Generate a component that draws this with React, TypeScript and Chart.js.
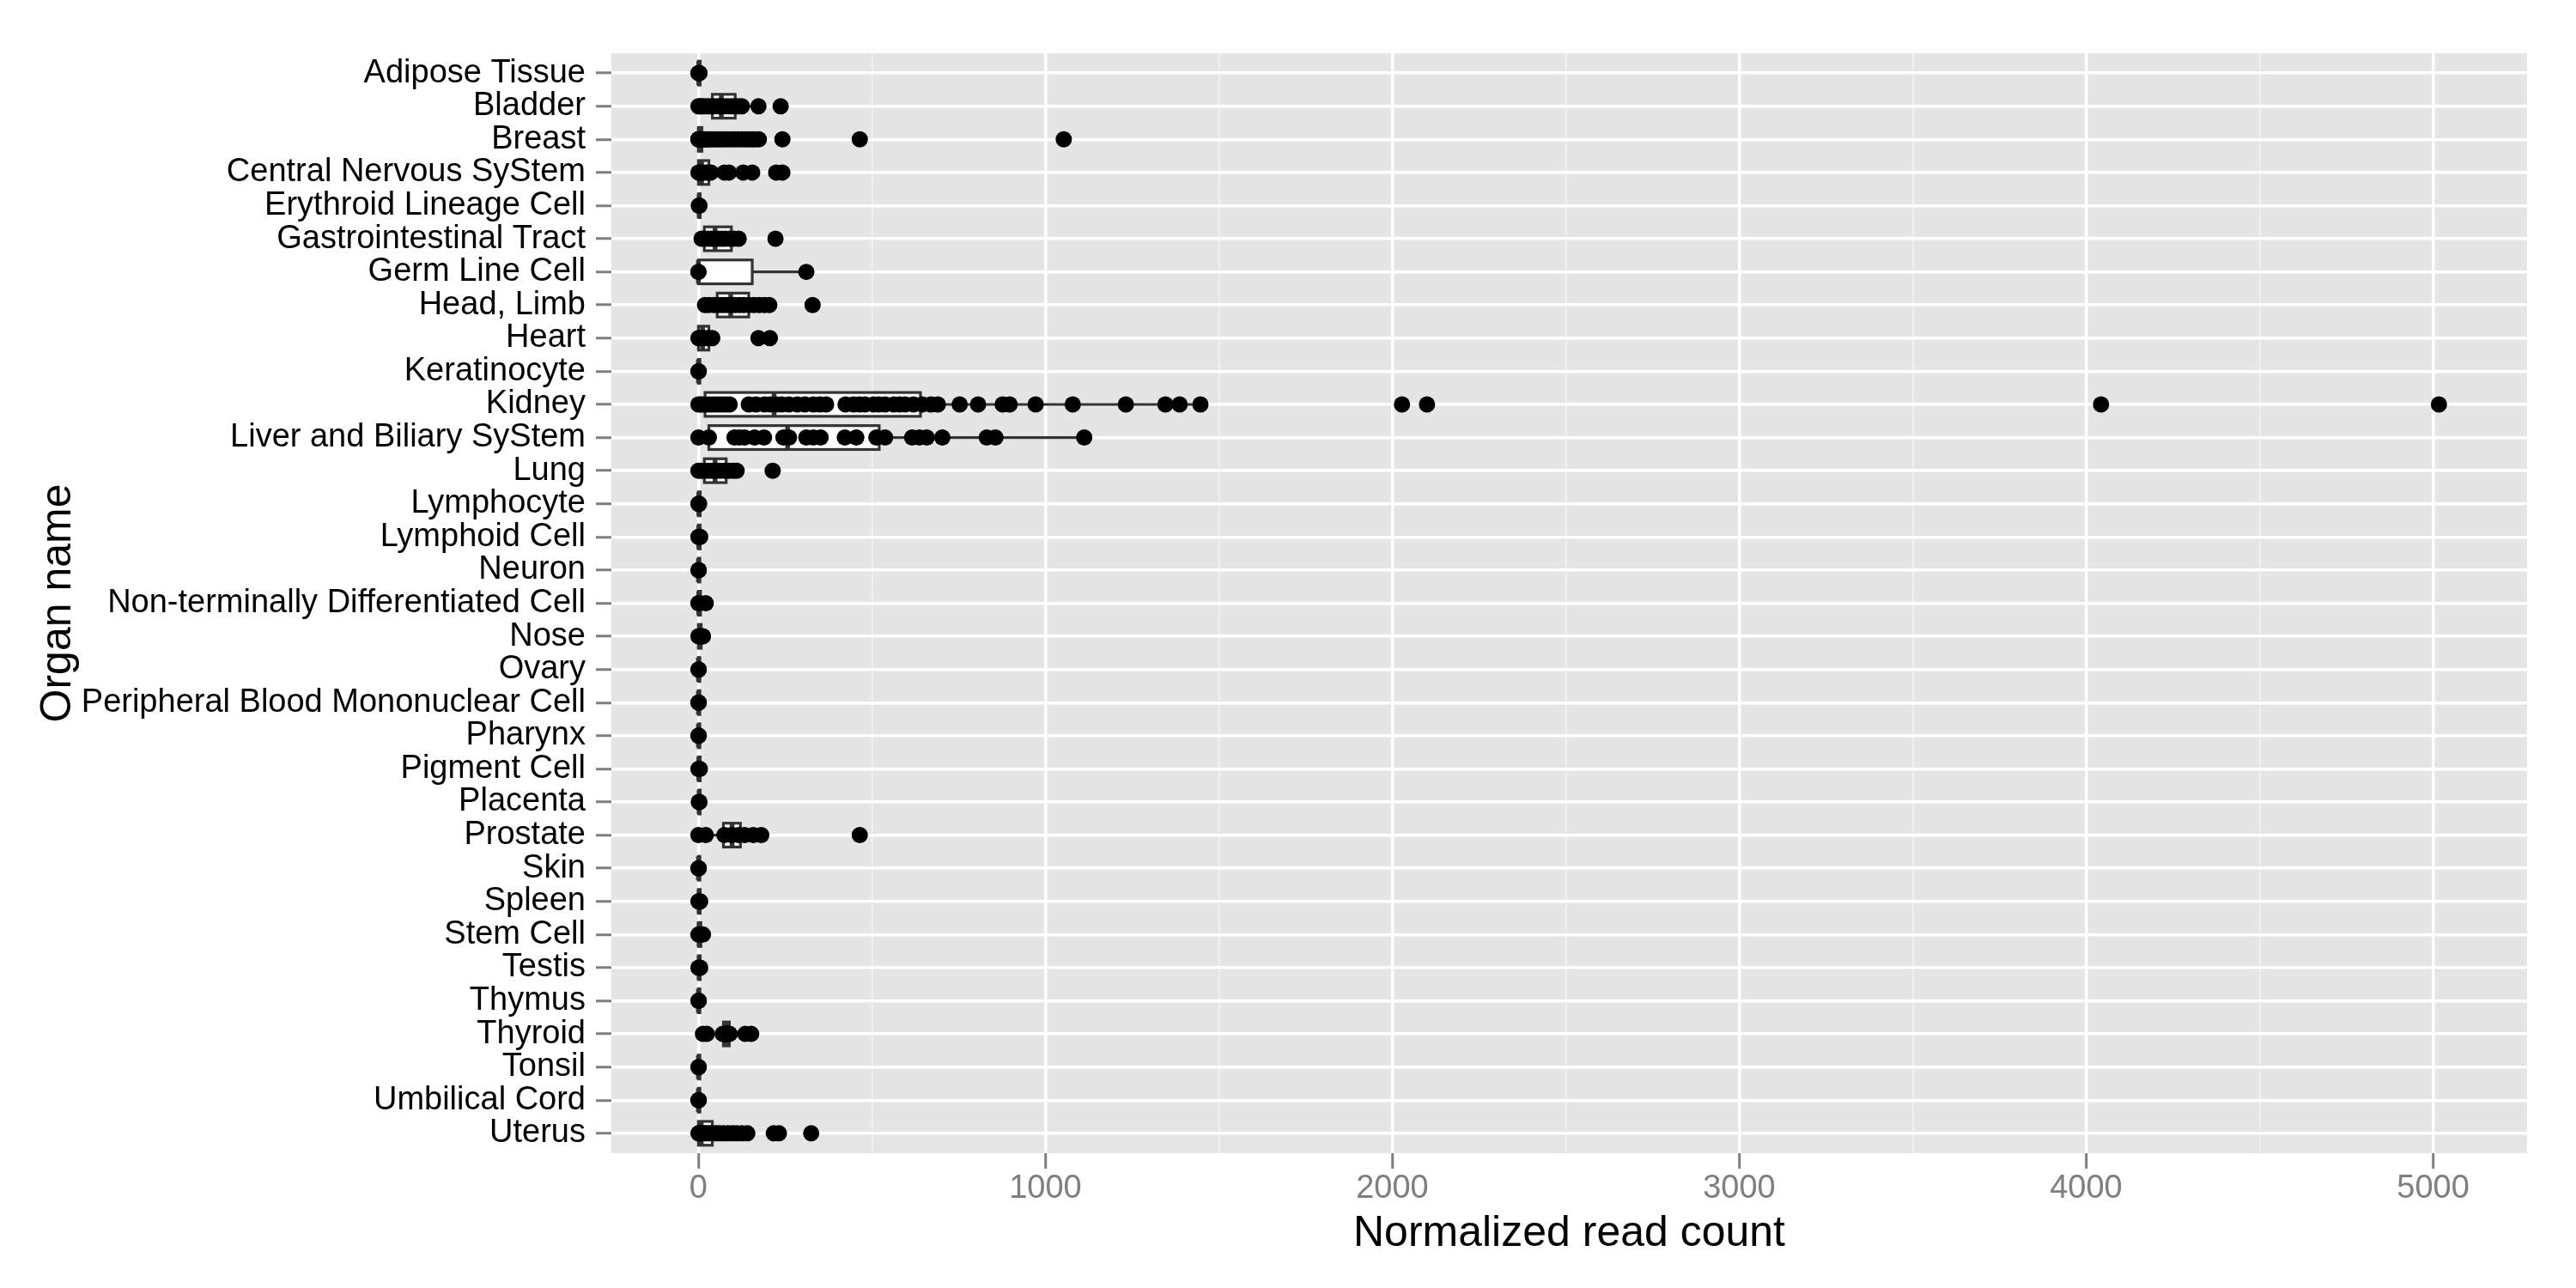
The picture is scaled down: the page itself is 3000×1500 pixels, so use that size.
import React, { useEffect, useRef } from 'react';
import { Chart, registerables } from 'chart.js';

Chart.register(...registerables);

const FONT = '"Liberation Sans", Arial, Helvetica, sans-serif';

const organNames: string[] = [
  'Adipose Tissue',
  'Bladder',
  'Breast',
  'Central Nervous SyStem',
  'Erythroid Lineage Cell',
  'Gastrointestinal Tract',
  'Germ Line Cell',
  'Head, Limb',
  'Heart',
  'Keratinocyte',
  'Kidney',
  'Liver and Biliary SyStem',
  'Lung',
  'Lymphocyte',
  'Lymphoid Cell',
  'Neuron',
  'Non-terminally Differentiated Cell',
  'Nose',
  'Ovary',
  'Peripheral Blood Mononuclear Cell',
  'Pharynx',
  'Pigment Cell',
  'Placenta',
  'Prostate',
  'Skin',
  'Spleen',
  'Stem Cell',
  'Testis',
  'Thymus',
  'Thyroid',
  'Tonsil',
  'Umbilical Cord',
  'Uterus',
];

// normalized read counts per organ (one list per organ, same order as organNames)
const readCounts: number[][] = [
  [0, 1, 2, 3],
  [0, 4, 10, 18, 28, 38, 48, 58, 66, 75, 85, 95, 105, 115, 125, 173, 237],
  [0, 0, 1, 2, 3, 5, 7, 10, 14, 18, 22, 28, 35, 42, 50, 58, 66, 75, 85, 95, 105, 115, 125, 135, 145, 155, 163, 174, 242, 465, 1053],
  [0, 3, 8, 14, 22, 30, 36, 75, 88, 129, 155, 224, 242],
  [1, 3],
  [9, 18, 28, 38, 48, 58, 68, 78, 90, 102, 116, 222],
  [0, 0, 311],
  [19, 30, 45, 58, 70, 82, 93, 105, 118, 130, 145, 160, 175, 190, 204, 329],
  [0, 5, 12, 20, 30, 40, 173, 206],
  [0, 1],
  [0, 6, 12, 20, 30, 40, 50, 60, 70, 80, 90, 145, 166, 190, 207, 225, 240, 261, 285, 307, 331, 350, 368, 424, 447, 465, 480, 505, 520, 538, 563, 580, 596, 620, 645, 670, 690, 753, 806, 877, 897, 972, 1079, 1232, 1346, 1387, 1447, 2028, 2100, 4043, 5017],
  [0, 30, 104, 118, 133, 162, 189, 245, 261, 311, 331, 352, 422, 455, 513, 538, 616, 637, 658, 703, 831, 856, 1112],
  [0, 8, 17, 28, 40, 50, 62, 75, 88, 100, 110, 214],
  [0, 1, 2],
  [0, 2, 5],
  [0, 1],
  [0, 2, 21],
  [0, 4, 10, 13],
  [0, 1],
  [0, 1],
  [0, 1],
  [0, 2, 4],
  [1, 3],
  [0, 21, 75, 96, 116, 133, 158, 181, 465],
  [0, 1],
  [0, 3, 5],
  [0, 5, 13],
  [0, 3, 5],
  [0, 1],
  [13, 24, 70, 74, 78, 80, 83, 86, 90, 135, 152],
  [0, 1],
  [0, 1],
  [0, 2, 5, 8, 12, 18, 25, 32, 40, 50, 60, 72, 85, 98, 110, 125, 141, 217, 232, 325],
];

// box-plot statistics
const boxQ1: number[] = [0, 40, 0, 0, 1, 17, 0, 54, 0, 0, 19, 30, 17, 0, 0, 0, 0, 0, 0, 0, 0, 0, 1, 72, 0, 0, 0, 0, 0, 72, 0, 0, 0];
const boxMedian: number[] = [1, 66, 3, 9, 2, 48, 0, 93, 12, 0, 218, 257, 48, 1, 1, 0, 1, 3, 0, 0, 0, 1, 2, 97, 0, 2, 2, 2, 0, 80, 0, 0, 8];
const boxQ3: number[] = [5, 106, 10, 30, 5, 95, 155, 145, 30, 4, 640, 521, 80, 5, 5, 4, 6, 8, 4, 4, 4, 5, 5, 121, 4, 5, 7, 5, 4, 89, 4, 4, 40];
const whiskerLow: number[] = [0, 0, 0, 0, 1, 9, 0, 19, 0, 0, 0, 0, 0, 0, 0, 0, 0, 0, 0, 0, 0, 0, 1, 0, 0, 0, 0, 0, 0, 70, 0, 0, 0];
const whiskerHigh: number[] = [5, 173, 22, 75, 5, 116, 311, 204, 40, 4, 1447, 1112, 110, 5, 5, 4, 6, 13, 4, 4, 4, 5, 5, 181, 4, 5, 13, 5, 4, 90, 4, 4, 98];

const xTickValues: number[] = [0, 500, 1000, 1500, 2000, 2500, 3000, 3500, 4000, 4500, 5000];
const xMin = -251;
const xMax = 5271;

const BOX_HALF = 0.36;

const panelAndBoxes = {
  id: 'panelAndBoxes',
  beforeDraw(chart: any) {
    const { ctx, chartArea: a } = chart;
    ctx.save();
    ctx.fillStyle = '#E5E5E5';
    ctx.fillRect(a.left, a.top, a.right - a.left, a.bottom - a.top);
    ctx.restore();
  },
  beforeDatasetsDraw(chart: any) {
    const { ctx } = chart;
    const xs = chart.scales.x;
    const ys = chart.scales.y;
    ctx.save();
    ctx.strokeStyle = '#333333';
    organNames.forEach((_, i) => {
      const yc = ys.getPixelForValue(i);
      const h = Math.abs(ys.getPixelForValue(i + BOX_HALF) - yc);
      const xl = xs.getPixelForValue(whiskerLow[i]);
      const x1 = xs.getPixelForValue(boxQ1[i]);
      const xm = xs.getPixelForValue(boxMedian[i]);
      const x3 = xs.getPixelForValue(boxQ3[i]);
      const xh = xs.getPixelForValue(whiskerHigh[i]);
      ctx.lineWidth = 3.2;
      ctx.beginPath();
      ctx.moveTo(xl, yc);
      ctx.lineTo(x1, yc);
      ctx.moveTo(x3, yc);
      ctx.lineTo(xh, yc);
      ctx.stroke();
      ctx.fillStyle = '#FFFFFF';
      ctx.fillRect(x1, yc - h, x3 - x1, 2 * h);
      ctx.strokeRect(x1, yc - h, x3 - x1, 2 * h);
      ctx.lineWidth = 5.5;
      ctx.beginPath();
      ctx.moveTo(xm, yc - h);
      ctx.lineTo(xm, yc + h);
      ctx.stroke();
    });
    ctx.restore();
  },
};

export default function App() {
  const canvasRef = useRef<HTMLCanvasElement | null>(null);

  useEffect(() => {
    if (!canvasRef.current) return;
    const points = readCounts.flatMap((vals, i) => vals.map((v) => ({ x: v, y: i })));
    const isMajor = (c: any) => c.tick && c.tick.value % 1000 === 0;
    const chart = new Chart(canvasRef.current, {
      type: 'scatter',
      data: {
        datasets: [
          {
            data: points,
            pointRadius: 9.5,
            pointHoverRadius: 9.5,
            backgroundColor: '#000000',
            borderWidth: 0,
          },
        ],
      },
      plugins: [panelAndBoxes],
      options: {
        responsive: false,
        maintainAspectRatio: false,
        animation: false,
        events: [],
        layout: { padding: { top: 62, right: 57, bottom: 0, left: 0 } },
        plugins: {
          legend: { display: false },
          tooltip: { enabled: false },
        },
        scales: {
          x: {
            type: 'linear',
            min: xMin,
            max: xMax,
            bounds: 'data',
            afterBuildTicks: (s: any) => {
              s.ticks = xTickValues.map((v) => ({ value: v }));
            },
            afterFit: (s: any) => {
              s.height = 157;
            },
            ticks: {
              callback: (v: any) => (Number(v) % 1000 === 0 ? String(v) : ''),
              color: '#7F7F7F',
              font: { family: FONT, size: 38 },
              padding: 1,
              maxRotation: 0,
              autoSkip: false,
            },
            grid: {
              color: (c: any) => (isMajor(c) ? '#FFFFFF' : '#F2F2F2'),
              lineWidth: (c: any) => (isMajor(c) ? 3.5 : 1.7),
              tickColor: (c: any) => (isMajor(c) ? '#7F7F7F' : 'rgba(0,0,0,0)'),
              tickLength: 18,
              tickWidth: 3,
            },
            border: { display: false },
            title: {
              display: true,
              text: 'Normalized read count',
              color: '#000000',
              font: { family: FONT, size: 50 },
              padding: { top: 0, bottom: 33 },
            },
          },
          y: {
            type: 'linear',
            reverse: true,
            min: -0.6,
            max: organNames.length - 0.4,
            bounds: 'data',
            afterBuildTicks: (s: any) => {
              s.ticks = organNames.map((_, i) => ({ value: i }));
            },
            afterFit: (s: any) => {
              s.width = 712;
            },
            ticks: {
              callback: (v: any) => organNames[Number(v)] ?? '',
              color: '#000000',
              font: { family: FONT, size: 38 },
              padding: 12,
              autoSkip: false,
            },
            grid: {
              color: '#FFFFFF',
              lineWidth: 3.5,
              tickColor: '#7F7F7F',
              tickLength: 18,
              tickWidth: 3,
            },
            border: { display: false },
            title: {
              display: true,
              text: 'Organ name',
              color: '#000000',
              font: { family: FONT, size: 50 },
              padding: { top: 38, bottom: 0 },
            },
          },
        },
      } as any,
    });
    return () => chart.destroy();
  }, []);

  return (
    <div style={{ position: 'absolute', left: 0, top: 0, width: 3000, height: 1500, background: '#FFFFFF' }}>
      <canvas ref={canvasRef} width={3000} height={1500} style={{ width: 3000, height: 1500, display: 'block' }} />
    </div>
  );
}
